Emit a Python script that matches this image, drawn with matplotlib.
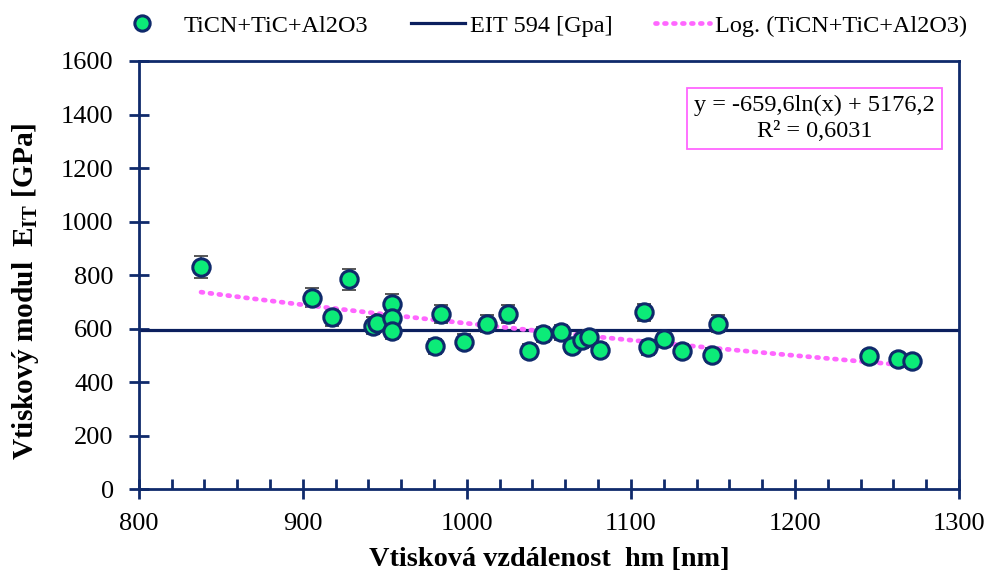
import numpy as np
import matplotlib
matplotlib.use("Agg")
import matplotlib.pyplot as plt
from matplotlib.lines import Line2D
from matplotlib.legend_handler import HandlerLine2D
from matplotlib.ticker import MultipleLocator

plt.rcParams['font.family'] = ['Liberation Serif', 'DejaVu Serif']
plt.rcParams['mathtext.fontset'] = 'custom'
plt.rcParams['mathtext.rm'] = 'Liberation Serif'
plt.rcParams['mathtext.bf'] = 'Liberation Serif:bold'

# Indentation distance hm [nm] and indentation modulus E_IT [GPa]
hm_nm = [838.0, 905.6, 917.8, 928.2, 942.8, 945.3, 954.4, 954.4, 954.4,
         980.6, 984.2, 998.3, 1012.3, 1025.1, 1037.9, 1046.4, 1057.4,
         1064.1, 1070.2, 1074.4, 1081.1, 1107.9, 1110.4, 1120.1, 1131.1,
         1149.4, 1153.0, 1245.0, 1262.7, 1271.2]
eit_gpa = [831, 716, 642, 785, 611, 622, 694, 638, 593,
           534, 654, 552, 619, 654, 516, 579, 586,
           537, 556, 567, 522, 661, 530, 560, 516,
           501, 619, 497, 486, 478]
eit_err = [42, 36, 32, 39, 31, 31, 35, 32, 30,
           27, 33, 28, 31, 33, 26, 29, 29,
           27, 28, 28, 26, 33, 27, 28, 26,
           25, 31, 25, 24, 24]

eit_reference = 594
trend_a = -659.6
trend_b = 5176.2
trend_r2 = "0,6031"

navy = '#0F2A6B'
line_navy = '#0B1F5E'
green = '#0CEB78'
magenta = '#FF66FF'


class MarkerLeftHandler(HandlerLine2D):
    """Legend handler that draws the marker nearer the left of its slot."""
    def create_artists(self, legend, orig_handle, xdescent, ydescent,
                       width, height, fontsize, trans):
        artists = super().create_artists(legend, orig_handle, xdescent,
                                         ydescent, width, height, fontsize,
                                         trans)
        for a in artists:
            a.set_xdata(np.asarray(a.get_xdata(), dtype=float) - 7)
        return artists


fig = plt.figure(figsize=(9.9, 5.78), dpi=100)
ax = fig.add_axes([0.1401, 0.1535, 0.8287, 0.7410])

ax.axhline(eit_reference, color=line_navy, lw=2.3, zorder=2)

xs = np.linspace(min(hm_nm), max(hm_nm), 200)
ax.plot(xs, trend_a * np.log(xs) + trend_b, color=magenta, lw=3.4,
        linestyle=(0, (0.4, 1.5)), dash_capstyle='round', zorder=4)

ax.errorbar(hm_nm, eit_gpa, yerr=eit_err, fmt='none', ecolor='#4a4a4a',
            elinewidth=1.3, capsize=5, capthick=1.3, zorder=3)
ax.plot(hm_nm, eit_gpa, 'o', ms=12.5, mfc=green, mec=navy, mew=2.2,
        linestyle='none', zorder=5)

ax.set_xlim(800, 1300)
ax.set_ylim(0, 1600)
ax.xaxis.set_major_locator(MultipleLocator(100))
ax.xaxis.set_minor_locator(MultipleLocator(20))
ax.yaxis.set_major_locator(MultipleLocator(200))

for s in ax.spines.values():
    s.set_color(navy)
    s.set_linewidth(2.0)

ax.tick_params(axis='x', which='major', direction='inout', length=14,
               width=2.0, color=navy, labelsize=19, pad=10)
ax.tick_params(axis='x', which='minor', direction='in', length=7,
               width=2.0, color=navy)
ax.tick_params(axis='y', which='major', direction='inout', length=14,
               width=2.0, color=navy, labelsize=19, pad=11)

ax.set_xlabel('Vtisková vzdálenost  hm [nm]', fontsize=20.3,
              fontweight='bold', labelpad=9)
ax.set_ylabel(r'Vtiskový modul  $\mathbf{E_{IT}}$ [GPa]', fontsize=21.2,
              fontweight='bold')
ax.yaxis.set_label_coords(-0.119, 0.462)

ax.text(0.824, 0.866,
        f'y = {trend_a:.1f}ln(x) + {trend_b:.1f}'.replace('.', ',')
        + f'\nR² = {trend_r2}',
        transform=ax.transAxes, ha='center', va='center', fontsize=17.5,
        linespacing=1.3,
        bbox=dict(boxstyle='square,pad=0.3', fc='white', ec=magenta, lw=1.3))

marker_handle = Line2D([], [], marker='o', ms=11, mfc=green, mec=navy,
                       mew=2.2, linestyle='none')
handles = [
    marker_handle,
    Line2D([], [], color=line_navy, lw=2.3),
    Line2D([], [], color=magenta, lw=3.4, linestyle=(0, (0.4, 1.5)),
           dash_capstyle='round'),
]
labels = ['TiCN+TiC+Al2O3', 'EIT 594 [Gpa]', 'Log. (TiCN+TiC+Al2O3)']
fig.legend(handles, labels, loc='upper center', bbox_to_anchor=(0.551, 1.012),
           ncol=3, frameon=False, fontsize=17.5, handlelength=2.25,
           handletextpad=0.2, columnspacing=1.75,
           handler_map={marker_handle: MarkerLeftHandler()})

fig.savefig('out.png', dpi=100)
